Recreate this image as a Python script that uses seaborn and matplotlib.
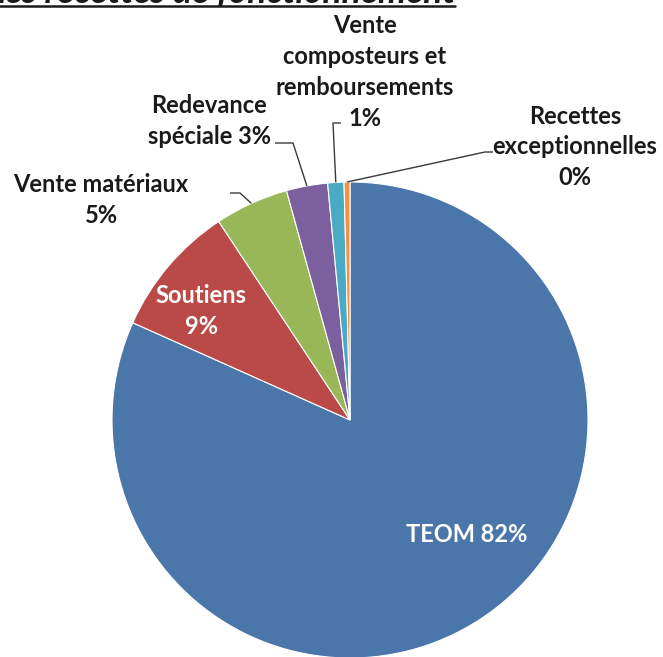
import matplotlib
matplotlib.use("Agg")
import matplotlib.pyplot as plt
import seaborn as sns
import numpy as np
from matplotlib.lines import Line2D

# ---- data ----
categories = ["TEOM", "Soutiens", "Vente matériaux", "Redevance spéciale",
              "Vente composteurs et remboursements", "Recettes exceptionnelles"]
shares = [81.7, 9.0, 5.0, 2.8, 1.1, 0.4]
label_names = ["TEOM", "Soutiens\n", "Vente matériaux\n", "Redevance\nspéciale",
               "Vente\ncomposteurs et\nremboursements\n", "Recettes\nexceptionnelles\n"]
title_text = "Les recettes de fonctionnement"
colors = ["#4A76AA", "#BA4A47", "#98B857", "#7C5F9E", "#4AAAC3", "#F39244"]

sns.set_style("white")
plt.rcParams['font.family'] = ['Lato', 'DejaVu Sans']

W, H = 663, 657
fig = plt.figure(figsize=(W / 100, H / 100), dpi=100)
ax = fig.add_axes([0, 0, 1, 1])

# pie geometry in pixels
cx, cy, R = 350, 420, 238

palette = sns.color_palette(colors)
wedges, _ = ax.pie(shares, colors=palette, startangle=90, counterclock=False,
                   radius=1.0, center=(0, 0),
                   wedgeprops=dict(edgecolor="white", linewidth=0.8))

ax.set_xlim(-cx / R, (W - cx) / R)
ax.set_ylim(-(H - cy) / R, cy / R)
ax.set_aspect("equal")
ax.axis("off")


def p2d(px, py):
    return ((px - cx) / R, (cy - py) / R)


pct = [f"{round(v)}%" for v in shares]
texts = []
for name, p in zip(label_names, pct):
    if name.endswith("\n"):
        texts.append(name + p)
    else:
        texts.append(name + " " + p)

fs = 17
lab_pos = [p2d(467, 534), p2d(201, 311), p2d(101, 200), p2d(209, 121),
           p2d(365, 72), p2d(575, 147)]
lab_col = ["white", "white", "#1a1a1a", "#1a1a1a", "#1a1a1a", "#1a1a1a"]
for t, (x, y), c in zip(texts, lab_pos, lab_col):
    ax.text(x, y, t, ha="center", va="center", fontsize=fs, fontweight="bold",
            color=c, linespacing=1.42)

# leader lines
mids = []
for w in wedges:
    a = np.deg2rad((w.theta1 + w.theta2) / 2)
    mids.append((np.cos(a), np.sin(a)))

leaders = {
    2: [p2d(240, 193), p2d(230, 193)],
    3: [p2d(293, 143), p2d(275, 143)],
    4: [p2d(333, 123), p2d(341, 123)],
    5: [p2d(485, 152), p2d(493, 152)],
}
for i, pts in leaders.items():
    xs = [mids[i][0]] + [p[0] for p in pts]
    ys = [mids[i][1]] + [p[1] for p in pts]
    ax.plot(xs, ys, color="#3a3a3a", lw=1.0, solid_capstyle="butt")

# cropped title
t = fig.text(455 / W, 1 - 3.0 / H, title_text, ha="right", va="baseline",
             fontsize=25.5, fontweight="bold", fontstyle="italic", color="#1a1a1a")
fig.canvas.draw()
bb = t.get_window_extent()
fig.add_artist(Line2D([bb.x0 / W, bb.x1 / W], [(H - 6) / H, (H - 6) / H],
                      color="#1a1a1a", lw=1.8, transform=fig.transFigure))

fig.savefig("out.png", dpi=100)
